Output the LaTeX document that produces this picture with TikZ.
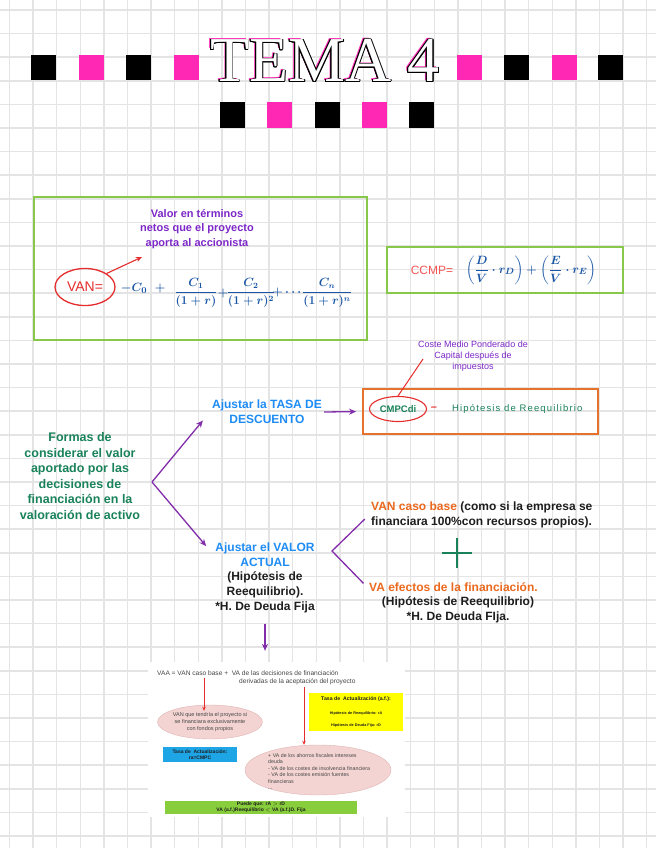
\documentclass[tikz,border=0pt]{standalone}
\usepackage{fontspec}
\setmainfont{Liberation Sans}
\newfontfamily\serifttl{Liberation Serif}
\usepackage{amsmath}
\usepackage[copies]{contour}
\usetikzlibrary{shapes.geometric,arrows.meta}
\definecolor{gridc}{RGB}{228,228,228}
\definecolor{pinkc}{RGB}{255,40,180}
\definecolor{purp}{RGB}{130,45,170}
\definecolor{purptxt}{RGB}{125,40,200}
\definecolor{tealtxt}{RGB}{25,130,90}
\definecolor{bluetxt}{RGB}{30,140,245}
\definecolor{orangetxt}{RGB}{235,105,30}
\definecolor{redc}{RGB}{230,45,45}
\definecolor{salmon}{RGB}{245,85,85}
\definecolor{fblue}{RGB}{25,85,165}
\definecolor{boxgreen}{RGB}{135,200,75}
\definecolor{boxorange}{RGB}{230,115,45}
\definecolor{darktxt}{RGB}{30,30,30}
\definecolor{slidetxt}{RGB}{70,70,70}
\definecolor{pinkfill}{RGB}{243,212,210}
\definecolor{pinkline}{RGB}{225,180,180}
\definecolor{yelfill}{RGB}{255,255,0}
\definecolor{cyanfill}{RGB}{30,165,230}
\definecolor{grnfill}{RGB}{135,205,60}
\contourlength{0.7pt}
\tikzset{
  gridline/.style={draw=gridc, line width=1.5pt},
  sq/.style={inner sep=0, minimum width=25, minimum height=25},
  frame/.style={draw, line width=1.8pt, inner sep=0},
  plain/.style={inner sep=2pt, align=center},
  maintxt/.style={plain, font=\bfseries\fontsize{12}{15.2}\selectfont},
  parrow/.style={draw=purp, line width=1.3pt, -{Stealth[length=7pt,width=6pt]}},
  sarrow/.style={draw=redc, line width=0.9pt, -{Stealth[length=4pt,width=3.5pt]}},
  tiny/.style={inner sep=0, align=center, text=slidetxt, font=\fontsize{5.5}{6.6}\selectfont},
}
\begin{document}
\begin{tikzpicture}[x=1pt,y=-1pt]
\useasboundingbox (0,0) rectangle (656,848);
\fill[white] (0,0) rectangle (656,848);
% grid
\foreach \i in {0,...,27} \draw[gridline] ({9.5+23.6*\i},0) -- ({9.5+23.6*\i},848);
\foreach \i in {0,...,35} \draw[gridline] (0,{10+23.6*\i}) -- (656,{10+23.6*\i});
% title squares
\foreach \x/\c in {31/black,79/pinkc,126/black,174/pinkc,457/pinkc,504/black,552/pinkc,598/black}
  \node[sq, fill=\c, anchor=north west] (sq\x) at (\x,55) {};
\foreach \x/\c in {220/black,267/pinkc,315/black,362/pinkc,409/black}
  \node[sq, fill=\c, anchor=north west, minimum height=26] (sr\x) at (\x,102) {};
% title
\node[inner sep=0, anchor=base west, font=\serifttl\fontsize{64}{64}\selectfont] (ttl) at (210,82)
  {\makebox[0pt][l]{\hspace{-2pt}\raisebox{1pt}{\textcolor{pinkc}{TEMA 4}}}\contour{black}{\textcolor{white}{TEMA 4}}};
% box 1
\node[frame, draw=boxgreen, minimum width=333, minimum height=143] (box1) at (200.5,268.5) {};
\node[plain, text=purptxt, font=\bfseries\fontsize{11}{14.2}\selectfont] (valor) at (197,229) {Valor en términos\\netos que el proyecto\\aporta al accionista};
\node[ellipse, draw=redc, line width=1.3pt, minimum width=60, minimum height=37, inner sep=0, text=redc, font=\fontsize{14}{14}\selectfont] (van) at (85,287) {VAN=};
\coordinate (vtip) at (142,257);
\draw[redc, line width=1.1pt, -{Stealth[length=6pt,width=5pt]}] (van.north east) -- (vtip);
\begin{scope}[every node/.style={text=fblue, inner sep=0, font=\boldmath\fontsize{11.5}{13}\selectfont}]
\node[font=\boldmath\fontsize{12.5}{14}\selectfont] (c0) at (134,288) {$-C_0$};
\node (p1) at (160,288) {$+$};
\node (f1) at (196,293) {$\dfrac{C_1}{(1+r)}$};
\node (p2) at (223,293) {$+$};
\node (f2) at (251,293) {$\dfrac{C_2}{(1+r)^2}$};
\node (p3) at (288,292) {$+\cdots$};
\node (f3) at (327,293) {$\dfrac{C_n}{(1+r)^n}$};
\end{scope}
% box 2
\node[frame, draw=boxgreen, minimum width=236, minimum height=46] (box2) at (505,270) {};
\node[inner sep=0, text=salmon, font=\fontsize{12}{12}\selectfont] (ccmp) at (432,270) {CCMP=};
\node[inner sep=0, text=fblue, font=\boldmath\fontsize{12.5}{14}\selectfont] (ccf) at (531,270) {$\left(\dfrac{D}{V}\cdot r_D\right)+\left(\dfrac{E}{V}\cdot r_E\right)$};
% coste medio
\node[plain, text=purptxt, font=\fontsize{9}{11}\selectfont] (coste) at (473,356) {Coste Medio Ponderado de\\Capital después de\\impuestos};
\coordinate (cstart) at (423,359);
\node[frame, draw=boxorange, minimum width=235, minimum height=45] (box3) at (480.5,411.5) {};
\node[ellipse, draw=redc, line width=1.1pt, minimum width=57, minimum height=25, inner sep=0, text=tealtxt, font=\bfseries\fontsize{9.5}{10}\selectfont] (cmpc) at (398,409) {CMPCdi};
\draw[redc, line width=1pt] (cstart) -- (cmpc.north);
\node[inner sep=0, text=redc, font=\bfseries\fontsize{11}{11}\selectfont] (rdash) at (434,409) {--};
\node[inner sep=0, anchor=west, text=tealtxt, font=\fontsize{9.5}{10}\selectfont\addfontfeature{LetterSpace=12}] (hipr) at (452,409) {Hipótesis de Reequilibrio};
% left column
\node[plain, text=tealtxt, font=\bfseries\fontsize{12.5}{15.6}\selectfont] (formas) at (80,476) {Formas de\\considerar el valor\\aportado por las\\decisiones de\\financiación en la\\valoración de activo};
\node[maintxt, text=bluetxt] (tasa) at (267,412) {Ajustar la TASA DE\\DESCUENTO};
\node[maintxt, text=bluetxt] (actual) at (265,554.5) {Ajustar el VALOR\\ACTUAL};
\node[maintxt, text=darktxt] (hip1) at (265,592.5) {(Hipótesis de\\Reequilibrio).\\*H. De Deuda Fija};
\coordinate (v1) at (152,482);
\draw[parrow, shorten >=11pt] (v1) -- (tasa.west);
\draw[parrow, shorten >=11pt] (v1) -- (actual.west);
\draw[parrow, shorten >=6pt] (tasa.east) -- (box3.west);
% right column
\node[maintxt, align=left, anchor=west, text=darktxt] (vancb) at (369,515) {\textcolor{orangetxt}{VAN caso base} (como si la empresa se\\financiara 100\%con recursos propios).};
\node[maintxt, anchor=west, text=orangetxt] (vaef) at (367,587) {VA efectos de la financiación.};
\node[maintxt, text=darktxt] (hip2) at (458,609.5) {(Hipótesis de Reequilibrio)\\*H. De Deuda FIja.};
\coordinate (v2) at (332,551);
\draw[draw=purp, line width=1.3pt, shorten <=6pt, shorten >=5pt] (vancb.west) -- (v2) -- (vaef.west);
\draw[draw=tealtxt, line width=2.2pt] (442,553) -- (472,553) (457,538) -- (457,568);
% slide
\node[fill=white, minimum width=257, minimum height=155, inner sep=0] (slide) at (276.5,739.5) {};
\draw[parrow, shorten <=8pt, shorten >=11pt] (hip1.south) -- (slide.north -| hip1.south);
\node[tiny, anchor=west, font=\fontsize{6.6}{7}\selectfont] (vaa) at (157,673) {VAA = VAN caso base +\ \ VA de las decisiones de financiación};
\node[tiny, anchor=west, font=\fontsize{6.6}{7}\selectfont] (deriv) at (239,681.5) {derivadas de la aceptación del proyecto};
\node[ellipse, draw=pinkline, fill=pinkfill, minimum width=103, minimum height=34, tiny] (pe1) at (210,722) {VAN que tendría el proyecto si\\se financiara exclusivamente\\con fondos propios};
\coordinate (a1s) at (204,678);
\draw[sarrow] (a1s) -- ([yshift=-6pt]pe1.north -| a1s);
\node[fill=yelfill, minimum width=94, minimum height=38, inner sep=0] (yel) at (356,712) {};
\node[tiny, text=darktxt, font=\bfseries\fontsize{5.2}{6}\selectfont] (yel1) at (356,699) {Tasa de\ \ Actualización (a.f.):};
\node[tiny, text=darktxt, font=\bfseries\fontsize{3.8}{4.5}\selectfont] (yel2) at (356,713) {Hipótesis de Reequilibrio: rA};
\node[tiny, text=darktxt, font=\bfseries\fontsize{3.8}{4.5}\selectfont] (yel3) at (356,725) {Hipótesis de Deuda Fija: rD};
\node[ellipse, draw=pinkline, fill=pinkfill, minimum width=146, minimum height=50, inner sep=0] (pe2) at (318,770) {};
\node[tiny, align=left, anchor=north west, font=\fontsize{5.3}{6.5}\selectfont] (pe2t) at (268,753) {+ VA de los ahorros fiscales intereses\\deuda\\- VA de los costes de insolvencia financiera\\- VA de los costes emisión fuentes\\financieras\\...};
\coordinate (a2s) at (304,687);
\draw[sarrow] (a2s) -- (pe2.north -| a2s);
\node[fill=cyanfill, minimum width=74, minimum height=15, tiny, text=darktxt, font=\bfseries\fontsize{5}{6}\selectfont] (cyb) at (200,754.5) {Tasa de\ \ Actualización:\\ra=CMPC};
\node[fill=grnfill, minimum width=192, minimum height=13, tiny, text=darktxt, font=\bfseries\fontsize{5}{5.8}\selectfont] (grb) at (261,807.5) {Puede que: rA $>$ rD\\VA (a.f.)Reequilibrio $<$ VA (a.f.)D. Fija};
\end{tikzpicture}
\end{document}
